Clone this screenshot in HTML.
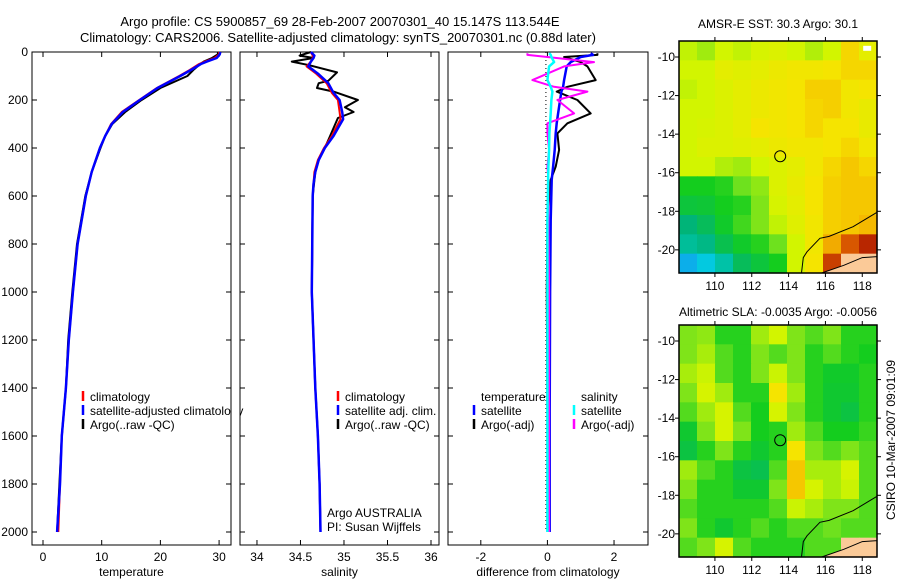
<!DOCTYPE html>
<html><head><meta charset="utf-8">
<style>
html,body{margin:0;padding:0;background:#fff;}
svg{display:block;font-family:"Liberation Sans",sans-serif;}
text{font-size:12px;fill:#000;}
</style></head>
<body>
<svg id="fig" width="900" height="580" viewBox="0 0 900 580">
<text x="340" y="26" text-anchor="middle" style="font-size:13px">Argo profile: CS 5900857_69 28-Feb-2007 20070301_40 15.147S 113.544E</text>
<text x="338" y="42" text-anchor="middle" style="font-size:13px">Climatology: CARS2006. Satellite-adjusted climatology: synTS_20070301.nc (0.88d later)</text>
<text x="778" y="28" text-anchor="middle">AMSR-E SST: 30.3 Argo: 30.1</text>
<text x="778" y="316" text-anchor="middle">Altimetric SLA: -0.0035 Argo: -0.0056</text>
<text x="0" y="0" transform="translate(895,440) rotate(-90)" text-anchor="middle">CSIRO 10-Mar-2007 09:01:09</text>
<g id="g"></g>
</svg>
<script>
// ---------- profile data ----------
const tDepths = [0,10,25,40,50,75,100,150,200,250,300,350,400,500,600,800,1000,1200,1400,1600,1800,2000];
const tClim   = [30.0,30.0,29.2,27.6,26.6,25.0,23.2,19.4,16.4,13.4,11.6,10.6,9.7,8.3,7.3,5.9,5.1,4.4,3.9,3.2,2.9,2.6];
const tSat    = [30.2,30.1,29.6,27.9,26.9,25.2,23.4,19.5,16.5,13.6,11.7,10.6,9.7,8.3,7.3,5.9,5.1,4.4,3.9,3.2,2.9,2.4];
const tArgo   = [29.8,29.8,28.8,27.4,26.8,25.6,24.6,20.0,16.8,14.0,11.8,10.6,9.8,8.3,7.2,5.8,5.0,4.3,3.9,3.2,2.8,2.4];

const sDepths = [0,15,25,40,60,90,130,170,200,250,280,350,400,450,500,550,600,1000,1400,1600,1800,2000];
const sClim   = [34.62,34.64,34.64,34.62,34.57,34.68,34.80,34.86,34.93,34.95,34.96,34.86,34.77,34.70,34.66,34.65,34.64,34.63,34.67,34.70,34.72,34.73];
const sSat    = [34.62,34.66,34.65,34.62,34.59,34.70,34.82,34.88,34.95,34.98,34.99,34.88,34.78,34.71,34.67,34.65,34.64,34.63,34.67,34.70,34.72,34.73];
const sArgoD  = [0,15,25,40,55,85,120,130,150,165,200,230,250,275,350,400,450,500,600,1000,1400,1600,1800,2000];
const sArgo   = [34.62,34.49,34.65,34.40,34.60,34.92,34.82,34.71,34.69,34.88,35.16,35.01,35.11,34.93,34.84,34.78,34.71,34.67,34.64,34.63,34.67,34.70,34.72,34.73];

const dDepths   = [5,12,21,42,60,117,145,165,200,256,297,339,408,478,533,700,1000,1500,2000];
const dTempSat  = [1.30,1.37,1.00,0.70,0.58,0.50,0.47,0.42,0.38,0.32,0.28,0.25,0.22,0.17,0.13,0.10,0.08,0.07,0.07];
const dTempArgo = [1.5,1.5,0.5,1.0,1.2,1.45,0.6,0.28,0.9,1.3,0.6,0.3,0.35,0.25,0.1,0.0,-0.02,0.0,0.0];
const dSalSat   = [0.05,0.10,0.12,0.20,0.05,0.00,0.10,0.15,0.12,0.10,0.08,0.06,0.05,0.03,0.02,0.0,0.0,0.0,0.0];
const dSalArgo  = [-0.6,-0.6,0.0,1.4,0.5,-0.45,0.2,1.2,0.3,0.8,0.0,0.0,0.05,0.0,0.03,0.03,0.05,0.05,0.05];

// ---------- map data (rows: lat -9.2 .. -21.2, cols: lon 108 .. 118.8) ; -1 = land ----------
const sstGrid = [
 [0.70,0.66,0.72,0.70,0.73,0.74,0.72,0.68,0.72,0.82,0.76],
 [0.72,0.72,0.76,0.75,0.76,0.78,0.79,0.79,0.80,0.82,0.82],
 [0.70,0.72,0.74,0.76,0.78,0.79,0.80,0.83,0.83,0.79,0.80],
 [0.72,0.72,0.74,0.76,0.78,0.79,0.80,0.82,0.83,0.79,0.77],
 [0.72,0.73,0.74,0.76,0.80,0.79,0.80,0.82,0.80,0.80,0.77],
 [0.72,0.74,0.74,0.75,0.76,0.78,0.79,0.79,0.80,0.82,0.79],
 [0.72,0.72,0.68,0.66,0.72,0.74,0.76,0.79,0.82,0.84,0.82],
 [0.50,0.50,0.52,0.60,0.64,0.74,0.77,0.80,0.83,0.84,0.84],
 [0.45,0.46,0.50,0.52,0.62,0.73,0.76,0.80,0.83,0.84,0.84],
 [0.35,0.40,0.48,0.55,0.62,0.70,0.75,0.79,0.83,0.84,0.86],
 [0.30,0.33,0.42,0.48,0.52,0.60,0.72,0.79,0.87,0.93,0.97],
 [0.12,0.18,0.28,0.40,0.45,0.50,0.72,0.80,0.95,-1,-1]
];
const slaGrid = [
 [0.62,0.64,0.52,0.52,0.66,0.72,0.62,0.57,0.62,0.52,0.52],
 [0.62,0.67,0.57,0.52,0.62,0.57,0.62,0.52,0.57,0.52,0.50],
 [0.67,0.71,0.57,0.52,0.62,0.71,0.62,0.52,0.48,0.48,0.52],
 [0.62,0.73,0.66,0.52,0.52,0.80,0.66,0.52,0.47,0.47,0.52],
 [0.57,0.66,0.73,0.57,0.50,0.73,0.62,0.52,0.47,0.44,0.52],
 [0.47,0.62,0.73,0.62,0.50,0.52,0.66,0.57,0.50,0.50,0.54],
 [0.44,0.52,0.62,0.52,0.47,0.52,0.80,0.62,0.57,0.62,0.57],
 [0.66,0.57,0.52,0.44,0.42,0.57,0.84,0.67,0.67,0.73,0.57],
 [0.62,0.52,0.52,0.47,0.47,0.62,0.84,0.73,0.67,0.71,0.57],
 [0.57,0.52,0.52,0.52,0.52,0.57,0.71,0.67,0.62,0.62,0.57],
 [0.62,0.52,0.47,0.52,0.57,0.52,0.57,0.57,0.60,0.57,0.57],
 [0.57,0.62,0.73,0.57,0.52,0.52,0.52,0.57,0.57,-1,-1]
];
const coastLon = [118.8,117.5,116.2,115.7,115.0,114.8,114.7];
const coastLat = [-18.05,-18.8,-19.3,-19.4,-20.1,-20.4,-21.2];
const landLon = [115.8,117.0,118.0,118.8,118.8];
const landLat = [-21.2,-20.8,-20.4,-20.35,-21.2];
const floatLon = 113.544, floatLat = -15.147;

const NS = "http://www.w3.org/2000/svg";
const G = document.getElementById('g');
function el(tag, attrs, parent){
  const e = document.createElementNS(NS, tag);
  for (const k in attrs) e.setAttribute(k, attrs[k]);
  (parent||G).appendChild(e);
  return e;
}
const yTop = 52, pxPerM = 0.24;
function yDepth(d){ return yTop + d*pxPerM; }

function panel(name, x0, x1, xmin, xmax, ticks, tickLabels, title){
  const sx = v => x0 + (v - xmin)/(xmax - xmin)*(x1 - x0);
  const r = el('rect',{x:x0,y:yTop,width:x1-x0,height:545-yTop,fill:'none',stroke:'#000','stroke-width':1});
  
  
  ticks.forEach((t,i)=>{
    const x = sx(t);
    el('line',{x1:x,y1:545,x2:x,y2:540,stroke:'#000'});
    el('line',{x1:x,y1:yTop,x2:x,y2:yTop+5,stroke:'#000'});
    const tl = el('text',{x:x,y:561,'text-anchor':'middle'});
    tl.textContent = tickLabels[i];
    
    
  });
  for (let d=0; d<=2000; d+=200){
    const y = yDepth(d);
    el('line',{x1:x0,y1:y,x2:x0+5,y2:y,stroke:'#000'});
    el('line',{x1:x1,y1:y,x2:x1-5,y2:y,stroke:'#000'});
  }
  const at = el('text',{x:(x0+x1)/2,y:576,'text-anchor':'middle'});
  at.textContent = title;
  
  
  return sx;
}
function line(name, sx, depths, vals, color, w){
  const pts = depths.map((d,i)=> sx(vals[i]).toFixed(1)+','+yDepth(d).toFixed(1)).join(' ');
  const p = el('polyline',{points:pts,fill:'none',stroke:color,'stroke-width':w,'stroke-linejoin':'round'});
  
  
}
function legend(name, x, y, color, label){
  const m = el('line',{x1:x,y1:y-6,x2:x,y2:y+4,stroke:color,'stroke-width':2.5});
  
  
  const t = el('text',{x:x+7,y:y+4});
  t.textContent = label;
  
  
}

for (let d=0; d<=2000; d+=200){
  const t = el('text',{x:28,y:yDepth(d)+4,'text-anchor':'end'});
  t.textContent = d;
  
  
}

const sxT = panel('temperature-panel', 32, 231, -1.874, 32.03, [0,10,20,30], ['0','10','20','30'], 'temperature');
line('temperature-argo-line', sxT, tDepths, tArgo, '#000', 2);
line('temperature-climatology-line', sxT, tDepths, tClim, '#f00', 2);
line('temperature-satellite-line', sxT, tDepths, tSat, '#00f', 2.5);
legend('legend-climatology', 83, 397, '#f00', 'climatology');
legend('legend-satellite-adjusted', 83, 411, '#00f', 'satellite-adjusted climatology');
legend('legend-argo-raw', 83, 425, '#000', 'Argo(..raw -QC)');
el('rect',{x:231.5,y:400,width:8,height:20,fill:'#fff'});

const sxS = panel('salinity-panel', 240, 439, 33.805, 36.092, [34,34.5,35,35.5,36], ['34','34.5','35','35.5','36'], 'salinity');
line('salinity-argo-line', sxS, sArgoD, sArgo, '#000', 2);
line('salinity-climatology-line', sxS, sDepths, sClim, '#f00', 2);
line('salinity-satellite-line', sxS, sDepths, sSat, '#00f', 2.5);
legend('legend-sal-climatology', 338, 397, '#f00', 'climatology');
legend('legend-sal-satellite', 338, 411, '#00f', 'satellite adj. clim.');
legend('legend-sal-argo', 338, 425, '#000', 'Argo(..raw -QC)');
const a1 = el('text',{x:327,y:517}); a1.textContent='Argo AUSTRALIA';


const a2 = el('text',{x:327,y:531}); a2.textContent='PI: Susan Wijffels';



const sxD = panel('difference-panel', 448, 648, -2.985, 3.02, [-2,0,2], ['-2','0','2'], 'difference from climatology');
const zl = el('line',{x1:sxD(0)-1.5,y1:yDepth(0),x2:sxD(0)-1.5,y2:yDepth(2000),stroke:'#000','stroke-dasharray':'1,3'});


line('diff-temp-argo-line', sxD, dDepths, dTempArgo, '#000', 2);
line('diff-temp-satellite-line', sxD, dDepths, dTempSat, '#00f', 2.5);
line('diff-sal-argo-line', sxD, dDepths, dSalArgo, '#f0f', 2);
line('diff-sal-satellite-line', sxD, dDepths, dSalSat, '#0ff', 2.5);
const lt = el('text',{x:481,y:401}); lt.textContent='temperature';


const ls = el('text',{x:581,y:401}); ls.textContent='salinity';


legend('legend-diff-temp-satellite', 474, 411, '#00f', 'satellite');
legend('legend-diff-temp-argo', 474, 425, '#000', 'Argo(-adj)');
legend('legend-diff-sal-satellite', 574, 411, '#0ff', 'satellite');
legend('legend-diff-sal-argo', 574, 425, '#f0f', 'Argo(-adj)');

const stops = [[0,[30,120,255]],[0.2,[0,210,220]],[0.35,[0,180,120]],[0.5,[20,205,30]],[0.6,[110,225,30]],[0.72,[210,245,0]],[0.8,[245,228,0]],[0.86,[245,185,0]],[0.92,[224,100,0]],[1,[160,0,0]]];
function cmap(v){
  for (let i=1;i<stops.length;i++){
    if (v<=stops[i][0]){
      const a=stops[i-1], b=stops[i], f=(v-a[0])/(b[0]-a[0]);
      return 'rgb('+a[1].map((c,k)=>Math.round(c+(b[1][k]-c)*f)).join(',')+')';
    }
  }
  return 'rgb(160,0,0)';
}
function map(name, top, grid){
  const x0=679, x1=877, y1=top+232;
  const lonMin=108.05, lonMax=118.8, latMax=-9.17, latMin=-21.2;
  const sx = lon => x0 + (lon-lonMin)/(lonMax-lonMin)*(x1-x0);
  const sy = lat => top + (latMax-lat)/(latMax-latMin)*(y1-top);
  const gm = el('g',{});
  
  
  const rows = grid.length, cols = grid[0].length;
  const cw = (x1-x0)/cols, ch = (y1-top)/rows;
  grid.forEach((row,r)=>row.forEach((v,c)=>{
    const cell = el('rect',{x:(x0+c*cw).toFixed(2),y:(top+r*ch).toFixed(2),width:(cw+0.6).toFixed(2),height:(ch+0.6).toFixed(2),fill: v<0 ? '#fbca98' : cmap(v)}, gm);
    
    
  }));
  const land = el('polygon',{points:landLon.map((l,i)=>sx(l).toFixed(1)+','+sy(landLat[i]).toFixed(1)).join(' '),fill:'#fbca98',stroke:'#000','stroke-width':1}, gm);
  
  
  const coast = el('polyline',{points:coastLon.map((l,i)=>sx(l).toFixed(1)+','+sy(coastLat[i]).toFixed(1)).join(' '),fill:'none',stroke:'#000','stroke-width':1}, gm);
  
  
  const mk = el('circle',{cx:sx(floatLon),cy:sy(floatLat),r:5.5,fill:'none',stroke:'#000','stroke-width':1}, gm);
  
  
  const fr = el('rect',{x:x0,y:top,width:x1-x0,height:y1-top,fill:'none',stroke:'#000','stroke-width':1.5}, gm);
  
  
  for (let lon=110; lon<=118; lon+=2){
    const x=sx(lon);
    el('line',{x1:x,y1:top,x2:x,y2:top-4,stroke:'#000'});
    el('line',{x1:x,y1:y1,x2:x,y2:y1+4,stroke:'#000'});
    const t = el('text',{x:x,y:y1+17,'text-anchor':'middle'});
    t.textContent = lon;
    
    
  }
  for (let lat=-10; lat>=-20; lat-=2){
    const y=sy(lat);
    el('line',{x1:x0,y1:y,x2:x0-4,y2:y,stroke:'#000'});
    el('line',{x1:x1,y1:y,x2:x1+4,y2:y,stroke:'#000'});
    const t = el('text',{x:675,y:y+4,'text-anchor':'end'});
    t.textContent = lat;
    
    
  }
  return {sx,sy};
}
const m1 = map('sst-map', 41, sstGrid);
el('rect',{x:m1.sx(118.05),y:m1.sy(-9.42),width:8,height:5,fill:'#fff'});
map('sla-map', 325, slaGrid);
</script>
</body></html>
